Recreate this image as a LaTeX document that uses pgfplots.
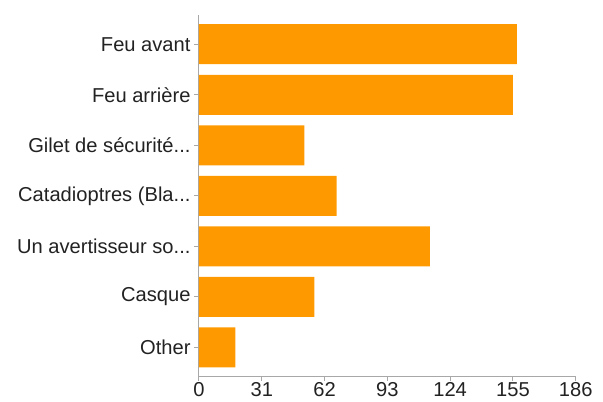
\documentclass[border=0pt]{standalone}
\usepackage{pgfplots}
\pgfplotsset{compat=1.18}
\usepackage{fontspec}
\setmainfont{Liberation Sans}
\definecolor{barorange}{HTML}{FF9900}
\definecolor{axisgray}{HTML}{A8A8A8}
\definecolor{txt}{HTML}{222222}
\newcommand{\dd}{...}
\begin{document}
\begin{tikzpicture}
\useasboundingbox (-199bp,-26bp) rectangle (404bp,376bp);
\begin{axis}[
  at={(0,0)}, anchor=south west,
  scale only axis, width=376.7bp, height=361bp,
  xmin=0, xmax=186, ymin=-0.564, ymax=6.578,
  xbar, bar width=40bp, bar shift=0pt,
  xtick={0,31,62,93,124,155,186},
  ytick={0,1,2,3,4,5,6},
  yticklabels={{Other},{Casque},{Un avertisseur so\dd},{Catadioptres (Bla\dd},{Gilet de sécurité\dd},{Feu arrière},{Feu avant}},
  axis x line*=bottom, axis y line*=left,
  axis line style={axisgray, line width=1bp, -},
  tick style={axisgray, line width=1bp},
  tick align=outside, major tick length=5bp,
  ticklabel style={font=\fontsize{20.2}{24}\selectfont, text=txt},
  xticklabel style={inner sep=1.5bp},
  /pgf/number format/assume math mode=true,
]
\addplot[fill=barorange, draw=none] coordinates {(157,6) (155,5) (52,4) (68,3) (114,2) (57,1) (18,0)};
\end{axis}
\end{tikzpicture}
\end{document}
